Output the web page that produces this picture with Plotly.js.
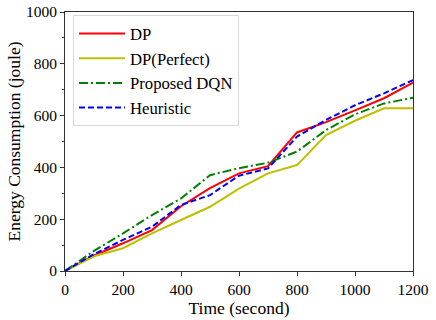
<!DOCTYPE html>
<html>
<head>
<meta charset="utf-8">
<script src="https://cdn.plot.ly/plotly-3.0.1.min.js"></script>
<style>html,body{margin:0;padding:0;background:#fff;}#chart{width:436px;height:320px;}</style>
</head>
<body>
<div id="chart"></div>
<script>
const timeSec = [0, 100, 200, 300, 400, 500, 600, 700, 800, 900, 1000, 1100, 1200];
const dp = [0, 60, 107, 158, 250, 320, 377, 405, 535, 575, 620, 667, 727];
const dpPerfect = [0, 57, 88, 145, 197, 248, 318, 377, 409, 525, 580, 628, 628];
const proposedDQN = [0, 78, 145, 216, 280, 370, 397, 418, 461, 544, 605, 647, 669];
const heuristic = [0, 65, 120, 171, 255, 293, 368, 396, 519, 583, 640, 686, 737];
const seriesNames = ['DP', 'DP(Perfect)', 'Proposed DQN', 'Heuristic'];

const FONT = '"Liberation Serif", "Times New Roman", serif';
const traces = [
  {x: timeSec, y: dp, name: seriesNames[0], mode: 'lines', line: {color: '#ff0000', width: 2}},
  {x: timeSec, y: dpPerfect, name: seriesNames[1], mode: 'lines', line: {color: '#bfbf00', width: 2}},
  {x: timeSec, y: proposedDQN, name: seriesNames[2], mode: 'lines', line: {color: '#008000', width: 2, dash: '9px,3px,2px,3px'}},
  {x: timeSec, y: heuristic, name: seriesNames[3], mode: 'lines', line: {color: '#0000ff', width: 2, dash: '6px,3px'}}
];
const axisCommon = {
  showgrid: false, zeroline: false, showline: true, mirror: true,
  linecolor: '#333', linewidth: 1, ticks: 'outside', ticklen: 4, tickcolor: '#333',
  tickfont: {family: FONT, size: 15.5, color: '#000'}
};
const layout = {
  width: 436, height: 320,
  margin: {l: 65, r: 23, t: 12, b: 49},
  paper_bgcolor: '#fff', plot_bgcolor: '#fff',
  font: {family: FONT, color: '#000'},
  showlegend: true,
  legend: {x: 0.023, y: 0.988, xanchor: 'left', yanchor: 'top', bgcolor: '#fff',
           bordercolor: '#d8d8d8', borderwidth: 1, itemwidth: 46,
           font: {family: FONT, size: 16.7, color: '#000'}},
  xaxis: Object.assign({}, axisCommon, {range: [0, 1200], dtick: 200, tick0: 0,
    title: {text: 'Time (second)', font: {family: FONT, size: 17.5, color: '#000'}, standoff: 0}}),
  yaxis: Object.assign({}, axisCommon, {range: [0, 1000], dtick: 200, tick0: 0,
    minor: {dtick: 100, ticklen: 2, ticks: 'outside', tickcolor: '#333'},
    title: {text: 'Energy Consumption (joule)', font: {family: FONT, size: 17.5, color: '#000'}, standoff: 0}})
};
Plotly.newPlot('chart', traces, layout, {displayModeBar: false, staticPlot: true});
</script>
</body>
</html>
